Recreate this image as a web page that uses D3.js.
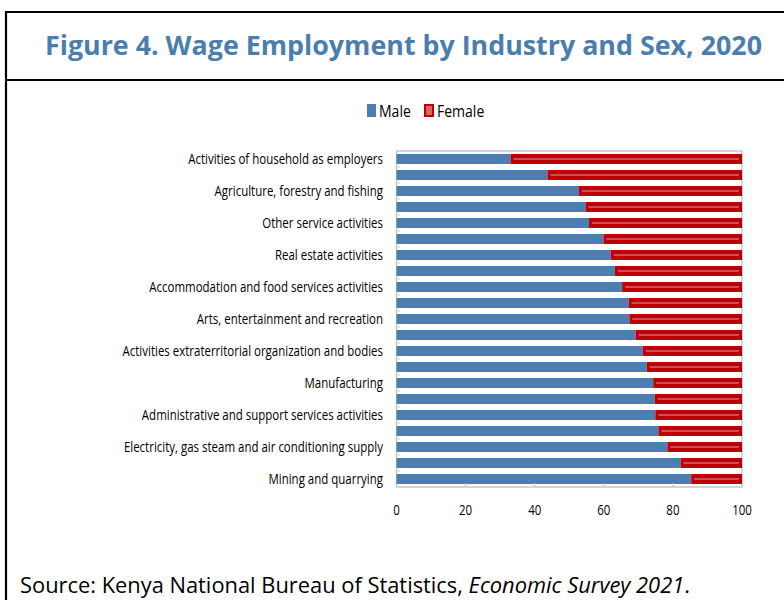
<!DOCTYPE html>
<html><head><meta charset="utf-8">
<script src="https://cdn.jsdelivr.net/npm/d3@7"></script>
<style>body{margin:0;background:#fff}svg{display:block}</style>
</head><body>
<script>
const categories = [
  "Activities of household as employers",
  "Human health and social work activities",
  "Agriculture, forestry and fishing",
  "Education",
  "Other service activities",
  "Financial and insurance activities",
  "Real estate activities",
  "Professional, scientific and technical activities",
  "Accommodation and food services activities",
  "Information and communication",
  "Arts, entertainment and recreation",
  "Wholesale and retail trade",
  "Activities extraterritorial organization and bodies",
  "Public administration and defence",
  "Manufacturing",
  "Water supply, sewerage and waste management",
  "Administrative and support services activities",
  "Transportation and storage",
  "Electricity, gas steam and air conditioning supply",
  "Construction",
  "Mining and quarrying"
];
const male = [33.0, 43.7, 52.8, 54.7, 55.7, 59.9, 62.0, 63.2, 65.3, 67.2, 67.4, 69.2, 71.3, 72.4, 74.3, 74.7, 74.9, 75.8, 78.4, 82.2, 85.3];
const female = male.map(m => +(100 - m).toFixed(1));
const xTicks = [0, 20, 40, 60, 80, 100];
const seriesNames = ["Male", "Female"];

const W = 784, H = 600;
const svg = d3.select("body").append("svg").attr("width", W).attr("height", H);
const labelFont = "'Open Sans',sans-serif";
const SX = 0.82;

// frame
svg.append("path").attr("d", `M6,${H} V12 H${W}`).attr("fill","none").attr("stroke","#000").attr("stroke-width",2.2);
svg.append("line").attr("x1",6).attr("x2",W).attr("y1",80).attr("y2",80).attr("stroke","#000").attr("stroke-width",2.2);

svg.append("text").attr("x", 45).attr("y", 55)
  .attr("font-family","'Open Sans',sans-serif").attr("font-weight","bold").attr("font-size",26.5)
  .attr("textLength",717).attr("lengthAdjust","spacingAndGlyphs")
  .attr("fill","#4a7eae").text("Figure 4. Wage Employment by Industry and Sex, 2020");

const m = {l:396.5, r:742, t:151, b:487};
const x = d3.scaleLinear().domain([0,100]).range([m.l, m.r]);
const y = d3.scaleBand().domain(categories).range([m.t, m.b]).paddingInner(0.375).paddingOuter(0.1875);

// plot frame
svg.append("rect").attr("x",m.l).attr("y",m.t).attr("width",m.r-m.l).attr("height",m.b-m.t)
  .attr("fill","none").attr("stroke","#bfbfbf").attr("stroke-width",1.3);

// y ticks (small marks between bars)
const yb = d3.scaleBand().domain(categories).range([m.t, m.b]);
svg.append("g").selectAll("line").data(categories.slice(1)).join("line")
  .attr("x1", m.l).attr("x2", m.l+4).attr("y1", d=>yb(d)).attr("y2", d=>yb(d))
  .attr("stroke","#d0d0d0").attr("stroke-width",1);

// bars
const gM = svg.append("g");
gM.selectAll("rect").data(categories).join("rect")
  .attr("x", x(0)).attr("y", d=>y(d)).attr("width", (d,i)=>x(male[i])-x(0)).attr("height", y.bandwidth())
  .attr("fill","#4a7eb4");
const gF = svg.append("g");
gF.selectAll("rect").data(categories).join("rect")
  .attr("x", (d,i)=>x(male[i])+0.8).attr("y", d=>y(d)+0.8)
  .attr("width",(d,i)=>x(male[i]+female[i])-x(male[i])-1.6).attr("height", y.bandwidth()-1.6)
  .attr("fill","#c00000").attr("stroke","#c00000").attr("stroke-width",1.6);
gF.selectAll("line").data(categories).join("line")
  .attr("x1",(d,i)=>x(male[i])+3).attr("x2", x(100)-3)
  .attr("y1", d=>y(d)+y.bandwidth()/2).attr("y2", d=>y(d)+y.bandwidth()/2)
  .attr("stroke","#d06a6a").attr("stroke-width",1.6);

// x axis ticks inside
svg.append("g").selectAll("line").data(xTicks.slice(1,-1)).join("line")
  .attr("x1",d=>x(d)).attr("x2",d=>x(d)).attr("y1",m.b).attr("y2",m.b-4)
  .attr("stroke","#bfbfbf").attr("stroke-width",1);
svg.append("g").selectAll("text").data(xTicks).join("text")
  .attr("transform",d=>`translate(${x(d)},515) scale(${SX},1)`).attr("text-anchor","middle")
  .attr("font-family",labelFont).attr("font-size",14).attr("fill","#000").text(d=>d);

// category labels (every other)
svg.append("g").selectAll("text").data(categories.filter((d,i)=>i%2===0)).join("text")
  .attr("transform", d=>`translate(383,${y(d)+y.bandwidth()/2+5}) scale(${SX},1)`).attr("text-anchor","end")
  .attr("font-family",labelFont).attr("font-size",14).attr("fill","#000").text(d=>d);

// legend
const lg = svg.append("g");
lg.append("rect").attr("x",367).attr("y",104).attr("width",9).attr("height",13).attr("fill","#4a7eb4");
lg.append("text").attr("transform","translate(379,117) scale(0.85,1)").attr("font-family",labelFont).attr("font-size",16.5).text(seriesNames[0]);
lg.append("rect").attr("x",425).attr("y",105).attr("width",8).attr("height",11).attr("fill","#d06a6a").attr("stroke","#c00000").attr("stroke-width",2);
lg.append("text").attr("transform","translate(437,117) scale(0.85,1)").attr("font-family",labelFont).attr("font-size",16.5).text(seriesNames[1]);

// source
const src = svg.append("text").attr("x",20).attr("y",593).attr("font-family","'Open Sans',sans-serif").attr("font-size",21)
  .attr("textLength",670).attr("lengthAdjust","spacingAndGlyphs").attr("fill","#000");
src.append("tspan").text("Source: Kenya National Bureau of Statistics, ");
src.append("tspan").attr("font-style","italic").text("Economic Survey 2021");
src.append("tspan").text(".");
</script>
</body></html>
